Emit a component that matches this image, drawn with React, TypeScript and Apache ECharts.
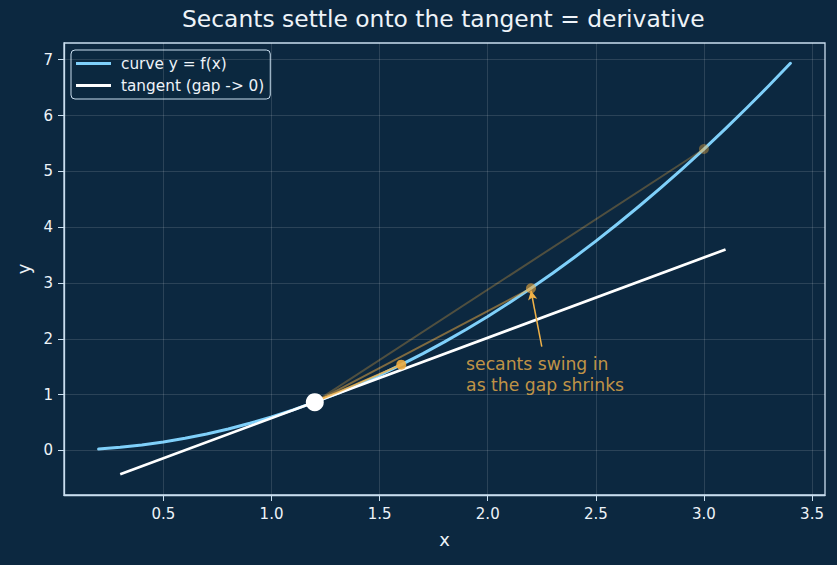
import React, { useEffect, useRef } from "react";
import * as echarts from "echarts";

// Sampled points along the curve y = f(x)
const curveX = [0.2, 0.3, 0.4, 0.5, 0.6, 0.7, 0.8, 0.9, 1.0, 1.1, 1.2, 1.3, 1.4, 1.5, 1.6, 1.7, 1.8, 1.9, 2.0, 2.1, 2.2, 2.3, 2.4, 2.5, 2.6, 2.7, 2.8, 2.9, 3.0, 3.1, 3.2, 3.3, 3.4];
const curveY = [0.024, 0.054, 0.096, 0.15, 0.216, 0.294, 0.384, 0.486, 0.6, 0.726, 0.864, 1.014, 1.176, 1.35, 1.536, 1.734, 1.944, 2.166, 2.4, 2.646, 2.904, 3.174, 3.456, 3.75, 4.056, 4.374, 4.704, 5.046, 5.4, 5.766, 6.144, 6.534, 6.936];

// Tangent line endpoints
const tangentX = [0.3, 3.1];
const tangentY = [-0.43, 3.6];

// Point of tangency
const anchorX = 1.2;
const anchorY = 0.864;

// Secant endpoints on the curve, from widest gap to narrowest
const secantX = [3.0, 2.2, 1.6];
const secantY = [5.4, 2.904, 1.536];
const secantAlpha = [0.3, 0.5, 0.8];

// Axis ticks
const xTicks = [0.5, 1.0, 1.5, 2.0, 2.5, 3.0, 3.5];
const yTicks = [0, 1, 2, 3, 4, 5, 6, 7];

const BG = "#0c2840";
const SPINE = "#c9deef";
const TEXT = "#eef3f8";
const ORANGE = "240,172,64";
const NOTE = "rgb(240,178,72)";
const FONT = "'DejaVu Sans', sans-serif";

export default function App() {
  const ref = useRef<HTMLDivElement>(null);

  useEffect(() => {
    if (!ref.current) return;
    const chart = echarts.init(ref.current, undefined, { renderer: "svg" });

    const secantSeries: any[] = secantX.map((sx, i) => ({
      type: "line",
      name: "secant" + i,
      data: [
        [anchorX, anchorY],
        [sx, secantY[i]],
      ],
      showSymbol: false,
      lineStyle: { color: `rgba(${ORANGE},${secantAlpha[i]})`, width: 2 },
      z: 4,
      silent: true,
    }));

    const secantDots: any[] = secantX.map((sx, i) => ({
      type: "scatter",
      name: "dot" + i,
      data: [[sx, secantY[i]]],
      symbolSize: 10,
      itemStyle: { color: `rgb(${ORANGE})`, opacity: Math.min(1, secantAlpha[i] + 0.1) },
      z: 5,
      silent: true,
    }));

    chart.setOption({
      animation: false,
      backgroundColor: BG,
      textStyle: { fontFamily: FONT },
      title: {
        text: "Secants settle onto the tangent = derivative",
        left: 182,
        top: 2,
        padding: [5, 0, 5, 0],
        textStyle: { color: TEXT, fontSize: 23.4, fontWeight: "normal", fontFamily: FONT },
      },
      legend: {
        left: 71,
        top: 50,
        orient: "vertical",
        data: ["curve y = f(x)", "tangent (gap -> 0)"],
        icon: "rect",
        itemWidth: 35,
        itemHeight: 3,
        itemGap: 7,
        padding: [6, 6, 6, 5],
        backgroundColor: "rgba(12,40,64,0.85)",
        borderColor: SPINE,
        borderWidth: 1,
        borderRadius: 4,
        textStyle: { color: TEXT, fontSize: 15.3, fontFamily: FONT, padding: [0, 0, 0, 5] },
      },
      grid: {
        left: 64,
        right: 12,
        top: 43,
        bottom: 70,
        show: true,
        borderColor: SPINE,
        borderWidth: 1.3,
        backgroundColor: "transparent",
      },
      xAxis: {
        type: "value",
        min: 0.04,
        max: 3.56,
        name: "x",
        nameLocation: "middle",
        nameGap: 35,
        nameTextStyle: { color: TEXT, fontSize: 18, fontFamily: FONT },
        axisLine: { show: true, onZero: false, lineStyle: { color: SPINE, width: 1.3 } },
        axisTick: { show: true, length: 6, lineStyle: { color: SPINE }, customValues: xTicks },
        axisLabel: {
          color: TEXT,
          fontSize: 15,
          margin: 11,
          fontFamily: FONT,
          customValues: xTicks,
          formatter: (v: number) => v.toFixed(1),
        },
        splitLine: { show: false },
      },
      yAxis: {
        type: "value",
        min: -0.8,
        max: 7.3,
        name: "y",
        nameLocation: "middle",
        nameGap: 32,
        nameRotate: 90,
        nameTextStyle: { color: TEXT, fontSize: 18, fontFamily: FONT },
        axisLine: { show: true, onZero: false, lineStyle: { color: SPINE, width: 1.3 } },
        axisTick: { show: true, length: 6, lineStyle: { color: SPINE }, customValues: yTicks },
        axisLabel: {
          color: TEXT,
          fontSize: 15,
          margin: 11,
          fontFamily: FONT,
          customValues: yTicks,
          formatter: (v: number) => String(Math.round(v)),
        },
        splitLine: { show: false },
      },
      series: [
        {
          // grid lines at the tick positions
          type: "line",
          name: "grid",
          data: [],
          silent: true,
          z: 1,
          markLine: {
            silent: true,
            symbol: "none",
            label: { show: false },
            lineStyle: { color: "rgba(255,255,255,0.13)", width: 1, type: "solid" },
            data: [
              ...xTicks.map((v) => ({ xAxis: v })),
              ...yTicks.map((v) => ({ yAxis: v })),
            ],
          },
        },
        {
          type: "line",
          name: "curve y = f(x)",
          data: curveX.map((x, i) => [x, curveY[i]]),
          showSymbol: false,
          color: "#7fd0fa",
          lineStyle: { color: "#7fd0fa", width: 3, cap: "round", join: "round" },
          z: 3,
        },
        {
          type: "line",
          name: "tangent (gap -> 0)",
          data: tangentX.map((x, i) => [x, tangentY[i]]),
          showSymbol: false,
          color: "#ffffff",
          lineStyle: { color: "#ffffff", width: 2.7 },
          z: 3,
        },
        ...secantSeries,
        ...secantDots,
        {
          type: "scatter",
          name: "anchor",
          data: [[anchorX, anchorY]],
          symbolSize: 18,
          itemStyle: { color: "#ffffff", opacity: 1 },
          z: 6,
          silent: true,
        },
        {
          // annotation text with arrow pointing at the middle secant point
          type: "scatter",
          name: "note",
          data: [[1.9, 0.99]],
          symbolSize: 0,
          silent: true,
          z: 6,
          label: {
            show: true,
            position: [0, 0],
            align: "left",
            verticalAlign: "bottom",
            formatter: "secants swing in\nas the gap shrinks",
            color: NOTE,
            fontSize: 17.2,
            lineHeight: 21,
            fontFamily: FONT,
          },
          markLine: {
            silent: true,
            symbol: ["none", "arrow"],
            symbolSize: [7, 9],
            label: { show: false },
            lineStyle: { color: NOTE, width: 1.5, type: "solid" },
            data: [
              [
                { coord: [2.25, 1.86] },
                { coord: [2.2, 2.86] },
              ],
            ],
          },
        },
      ],
    });

    return () => chart.dispose();
  }, []);

  return (
    <div
      ref={ref}
      style={{ position: "fixed", left: 0, top: 0, width: 837, height: 565 }}
    />
  );
}
